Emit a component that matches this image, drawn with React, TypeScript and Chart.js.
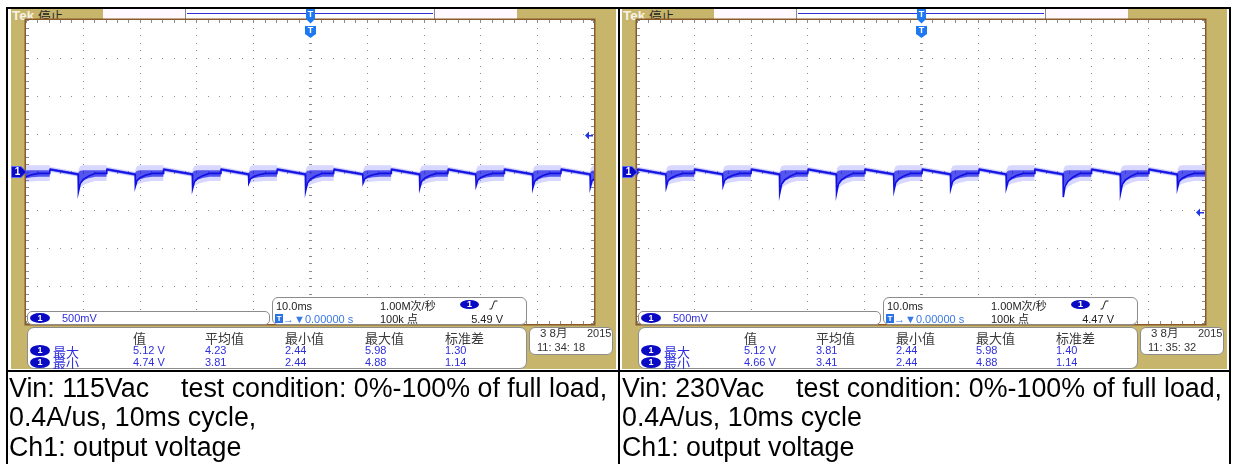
import React, { useEffect, useRef } from "react";
import { Chart, registerables } from "chart.js";

Chart.register(...registerables);

// ---------------- data ----------------
const TIME_MIN_MS = -50; // 10.0 ms/div, 10 divisions, trigger at centre
const TIME_MAX_MS = 50;
const VOLT_MIN = 3.0; // 500 mV/div, 8 divisions
const VOLT_MAX = 7.0;
const TIME_MAJOR_MS = [-40, -30, -20, -10, 0, 10, 20, 30, 40];
const VOLT_MAJOR = [3.5, 4.0, 4.5, 5.0, 5.5, 6.0, 6.5];
const TIME_MINOR_STEP_MS = 2;
const VOLT_MINOR_STEP = 0.1;

const CH1_GROUND_V = 5.0;
const TRIGGER_TIME_MS = 0;

// load step instants (ms) and the minimum the output dips to (V)
const LEFT_DIP_MS = [-50.8, -40.8, -30.8, -20.7, -10.8, -0.8, 9.3, 19.3, 29.2, 39.2, 49.3];
const LEFT_DIP_V = [4.86, 4.74, 4.81, 4.78, 4.855, 4.75, 4.855, 4.79, 4.82, 4.79, 4.8];
const LEFT_TRIGGER_V = 5.49;

const RIGHT_DIP_MS = [-54.9, -44.9, -34.9, -24.9, -14.9, -4.8, 5.2, 15.0, 25.0, 35.1, 45.1];
const RIGHT_DIP_V = [4.8, 4.8, 4.82, 4.72, 4.72, 4.76, 4.78, 4.79, 4.67, 4.72, 4.79];
const RIGHT_TRIGGER_V = 4.47;

// trace levels (V)
const QUIET_START_V = 5.035;
const QUIET_END_V = 4.97;
const QUIET_INNER_V = 0.018;
const QUIET_OUTER_V = 0.034;
const NOISY_CORE_V = 4.982;
const NOISY_INNER_HI_V = 5.022;
const NOISY_INNER_LO_V = 4.938;
const NOISY_OUTER_HI_V = 5.09;
const NOISY_OUTER_LO_V = 4.88;
const DIP_TAIL_V = 0.015;
const LOAD_STEP_MS = 5;
const RECOVERY_MS = [0.05, 0.35, 0.9, 1.8, 3.0];
const RECOVERY_FRAC = [1, 0.55, 0.33, 0.15, 0];
const INNER_DIP_FRAC = [0.45, 0.42, 0.26, 0.1, 0];
const NOISE_ONSET_FRAC = [0.5, 0.1, 0, 0, 0];

// readouts
const CH_SCALE = "500mV";
const TIMEBASE = "10.0ms";
const SAMPLE_RATE = "1.00M次/秒";
const RECORD_LEN = "100k 点";
const TRIG_POS = "→▼0.00000 s";
const MEAS_HEADERS = ["值", "平均值", "最小值", "最大值", "标准差"];
const ROW_LABELS = ["最大", "最小"];
const LEFT_MAX_ROW = ["5.12 V", "4.23", "2.44", "5.98", "1.30"];
const LEFT_MIN_ROW = ["4.74 V", "3.81", "2.44", "4.88", "1.14"];
const RIGHT_MAX_ROW = ["5.12 V", "3.81", "2.44", "5.98", "1.40"];
const RIGHT_MIN_ROW = ["4.66 V", "3.41", "2.44", "4.88", "1.14"];
const LEFT_TRIG_TEXT = "5.49 V";
const RIGHT_TRIG_TEXT = "4.47 V";
const DATE_TEXT = "3 8月";
const YEAR_TEXT = "2015";
const LEFT_CLOCK = "11: 34: 18";
const RIGHT_CLOCK = "11: 35: 32";

// captions
const LEFT_CAPTION_VIN = "Vin: 115Vac";
const RIGHT_CAPTION_VIN = "Vin: 230Vac";
const CAPTION_CONDITION = "test condition: 0%-100% of full load,";
const LEFT_CAPTION_LINES = ["0.4A/us, 10ms cycle,", "Ch1: output voltage"];
const RIGHT_CAPTION_LINES = ["0.4A/us, 10ms cycle", "Ch1: output voltage"];

// ---------------- styling ----------------
const TAN = "#C7B56B";
const BROWN = "#8A5A2A";
const GRID_DOT = "#8a8a8a";
const LAT = '"Liberation Sans", "Noto Sans CJK SC", sans-serif';
const CJK = '"Noto Sans CJK SC", "Liberation Sans", sans-serif';
const VAL_BLUE = "#2E2EE0";
const BADGE_BG = "#0A0AC4";
const TRIG_BLUE = "#1E78F0";

type Pt = { x: number; y: number };

function buildTrace(dipMs: number[], dipV: number[]) {
  const core: Pt[] = [];
  const inHi: Pt[] = [];
  const inLo: Pt[] = [];
  const outHi: Pt[] = [];
  const outLo: Pt[] = [];
  const push = (x: number, c: number, ih: number, il: number, oh: number, ol: number) => {
    core.push({ x, y: c });
    inHi.push({ x, y: ih });
    inLo.push({ x, y: il });
    outHi.push({ x, y: oh });
    outLo.push({ x, y: ol });
  };
  const quiet = (x: number, v: number) =>
    push(x, v, v + QUIET_INNER_V, v - QUIET_INNER_V, v + QUIET_OUTER_V, v - QUIET_OUTER_V);
  dipMs.forEach((t0, i) => {
    const d = dipV[i];
    quiet(t0, QUIET_END_V);
    RECOVERY_MS.forEach((dt, k) => {
      const f = RECOVERY_FRAC[k];
      const g = INNER_DIP_FRAC[k];
      const u = NOISE_ONSET_FRAC[k];
      push(
        t0 + dt,
        NOISY_CORE_V + (d - NOISY_CORE_V) * f,
        NOISY_INNER_HI_V + (QUIET_END_V - NOISY_INNER_HI_V) * u,
        NOISY_INNER_LO_V + (d - NOISY_INNER_LO_V) * g,
        NOISY_OUTER_HI_V + (QUIET_END_V - NOISY_OUTER_HI_V) * u,
        NOISY_OUTER_LO_V + (d - DIP_TAIL_V - NOISY_OUTER_LO_V) * f
      );
    });
    push(t0 + LOAD_STEP_MS - 0.03, NOISY_CORE_V, NOISY_INNER_HI_V, NOISY_INNER_LO_V, NOISY_OUTER_HI_V, NOISY_OUTER_LO_V);
    quiet(t0 + LOAD_STEP_MS + 0.03, QUIET_START_V);
    const next = i + 1 < dipMs.length ? dipMs[i + 1] : t0 + 2 * LOAD_STEP_MS;
    quiet(next - 0.03, QUIET_END_V);
  });
  return { core, inHi, inLo, outHi, outLo };
}

const scopePlugin = {
  id: "scopeScreen",
  beforeDraw(chart: any) {
    const { ctx, chartArea: a } = chart;
    ctx.save();
    ctx.fillStyle = "#ffffff";
    ctx.fillRect(a.left, a.top, a.right - a.left, a.bottom - a.top);
    ctx.restore();
  },
  beforeDatasetsDraw(chart: any) {
    const { ctx, chartArea: a, scales } = chart;
    const px = (t: number) => Math.round(scales.x.getPixelForValue(t));
    const py = (v: number) => Math.round(scales.y.getPixelForValue(v));
    const tMinor: number[] = [];
    const nt = Math.round((TIME_MAX_MS - TIME_MIN_MS) / TIME_MINOR_STEP_MS);
    for (let i = 0; i <= nt; i++) tMinor.push(TIME_MIN_MS + i * TIME_MINOR_STEP_MS);
    const vMinor: number[] = [];
    const nv = Math.round((VOLT_MAX - VOLT_MIN) / VOLT_MINOR_STEP);
    for (let i = 0; i <= nv; i++) vMinor.push(VOLT_MIN + i * VOLT_MINOR_STEP);
    ctx.save();
    ctx.fillStyle = GRID_DOT;
    TIME_MAJOR_MS.forEach((T) => vMinor.forEach((v) => ctx.fillRect(px(T), py(v), 1, 1)));
    VOLT_MAJOR.forEach((V) => tMinor.forEach((t) => ctx.fillRect(px(t), py(V), 1, 1)));
    const x0 = px(TRIGGER_TIME_MS);
    const y0 = py(CH1_GROUND_V);
    vMinor.forEach((v) => ctx.fillRect(x0 - 1, py(v), 3, 1));
    tMinor.forEach((t) => ctx.fillRect(px(t), y0 - 1, 1, 3));
    tMinor.forEach((t) => {
      const x = Math.min(px(t), a.right - 1);
      ctx.fillRect(x, a.top, 1, 3);
      ctx.fillRect(x, a.bottom - 3, 1, 3);
    });
    vMinor.forEach((v) => {
      const y = Math.min(py(v), a.bottom - 1);
      ctx.fillRect(a.left, y, 3, 1);
      ctx.fillRect(a.right - 3, y, 3, 1);
    });
    ctx.restore();
  },
  afterDraw(chart: any, _args: any, opts: any) {
    const { ctx, chartArea: a, scales } = chart;
    const px = (t: number) => scales.x.getPixelForValue(t);
    const py = (v: number) => Math.round(scales.y.getPixelForValue(v));
    ctx.save();
    // graticule frame
    ctx.strokeStyle = BROWN;
    ctx.lineWidth = 1.5;
    ctx.strokeRect(a.left - 0.75, a.top - 0.75, a.right - a.left + 1.5, a.bottom - a.top + 1.5);
    // channel 1 ground marker
    const gy = py(opts.groundV);
    ctx.fillStyle = BADGE_BG;
    ctx.strokeStyle = "#5a6cff";
    ctx.lineWidth = 1;
    ctx.beginPath();
    ctx.moveTo(a.left - 14.5, gy - 5.5);
    ctx.lineTo(a.left - 5, gy - 5.5);
    ctx.lineTo(a.left + 0.5, gy);
    ctx.lineTo(a.left - 5, gy + 5.5);
    ctx.lineTo(a.left - 14.5, gy + 5.5);
    ctx.closePath();
    ctx.fill();
    ctx.stroke();
    ctx.fillStyle = "#ffffff";
    ctx.font = 'bold 10px "Liberation Sans"';
    ctx.textAlign = "center";
    ctx.textBaseline = "middle";
    ctx.fillText("1", a.left - 8.5, gy + 0.5);
    // trigger level arrow
    const ty = py(opts.trigV);
    ctx.fillStyle = "#1E34E6";
    ctx.beginPath();
    ctx.moveTo(a.right - 9, ty + 0.5);
    ctx.lineTo(a.right - 5, ty - 3.5);
    ctx.lineTo(a.right - 5, ty + 4.5);
    ctx.closePath();
    ctx.fill();
    ctx.fillRect(a.right - 5, ty, 4, 1.5);
    // trigger position markers
    const xT = Math.round(px(opts.trigT)) + 0.5;
    ctx.fillStyle = TRIG_BLUE;
    ctx.fillRect(xT - 4.5, 0, 9, 10);
    ctx.beginPath();
    ctx.moveTo(xT - 4.5, 10);
    ctx.lineTo(xT + 4.5, 10);
    ctx.lineTo(xT, 14.5);
    ctx.closePath();
    ctx.fill();
    ctx.beginPath();
    ctx.moveTo(xT - 5.5, 17);
    ctx.lineTo(xT + 5.5, 17);
    ctx.lineTo(xT + 5.5, 25);
    ctx.lineTo(xT, 29);
    ctx.lineTo(xT - 5.5, 25);
    ctx.closePath();
    ctx.fill();
    ctx.fillStyle = "#ffffff";
    ctx.font = 'bold 9px "Liberation Sans"';
    ctx.fillText("T", xT, 5.5);
    ctx.fillText("T", xT, 22);
    ctx.restore();
  },
};

function Txt(props: { x: number; cy: number; size?: number; color?: string; font?: string; children: any; w?: number; align?: string }) {
  const size = props.size ?? 11;
  const lh = Math.round(size * 1.3);
  return (
    <div
      style={{
        position: "absolute",
        left: props.x,
        top: props.cy - lh / 2,
        width: props.w,
        textAlign: (props.align as any) ?? "left",
        fontSize: size,
        lineHeight: lh + "px",
        color: props.color ?? "#222",
        fontFamily: props.font ?? LAT,
        whiteSpace: "pre",
      }}
    >
      {props.children}
    </div>
  );
}

function Badge(props: { x: number; y: number; w?: number; h?: number }) {
  const w = props.w ?? 20;
  const h = props.h ?? 10;
  return (
    <div
      style={{
        position: "absolute",
        left: props.x,
        top: props.y,
        width: w,
        height: h,
        borderRadius: "50%",
        background: BADGE_BG,
        color: "#fff",
        fontFamily: LAT,
        fontWeight: "bold",
        fontSize: 9,
        lineHeight: h + "px",
        textAlign: "center",
      }}
    >
      1
    </div>
  );
}

function Box(props: { x: number; y: number; w: number; h: number; r?: number }) {
  return (
    <div
      style={{
        position: "absolute",
        left: props.x,
        top: props.y,
        width: props.w,
        height: props.h,
        boxSizing: "border-box",
        border: "1px solid #8c8c8c",
        borderRadius: props.r ?? 6,
        background: "#ffffff",
      }}
    />
  );
}

const MEAS_COL_X = [122, 194, 274, 354, 434];

function ScopePanel(props: {
  left: number;
  dipMs: number[];
  dipV: number[];
  trigV: number;
  trigText: string;
  maxRow: string[];
  minRow: string[];
  clock: string;
}) {
  const ref = useRef<HTMLCanvasElement | null>(null);
  useEffect(() => {
    const tr = buildTrace(props.dipMs, props.dipV);
    const base = { pointRadius: 0, tension: 0, clip: 0, borderColor: "transparent", borderWidth: 0 };
    const chart = new Chart(ref.current as HTMLCanvasElement, {
      type: "line",
      data: {
        datasets: [
          { ...base, data: tr.core, borderColor: "#1010E2", borderWidth: 1.6, fill: false, order: 0 },
          { ...base, data: tr.inHi, backgroundColor: "rgba(28,28,232,0.7)", fill: 2, order: 1 },
          { ...base, data: tr.inLo, fill: false, order: 1 },
          { ...base, data: tr.outHi, backgroundColor: "rgba(110,110,255,0.28)", fill: 4, order: 2 },
          { ...base, data: tr.outLo, fill: false, order: 2 },
        ] as any,
      },
      options: {
        responsive: false,
        maintainAspectRatio: false,
        animation: false,
        events: [],
        layout: { padding: { left: 15, top: 11, right: 22, bottom: 45 } },
        scales: {
          x: { type: "linear", min: TIME_MIN_MS, max: TIME_MAX_MS, display: false },
          y: { type: "linear", min: VOLT_MIN, max: VOLT_MAX, display: false },
        },
        plugins: {
          legend: { display: false },
          tooltip: { enabled: false },
          scopeScreen: { groundV: CH1_GROUND_V, trigV: props.trigV, trigT: TRIGGER_TIME_MS },
        } as any,
      },
      plugins: [scopePlugin as any],
    });
    return () => chart.destroy();
  }, []);

  return (
    <div style={{ position: "absolute", left: props.left, top: 9, width: 605, height: 360, background: TAN, overflow: "hidden" }}>
      {/* header */}
      <Txt x={1} cy={6.5} size={13.5} color="#F6F2E4" font={LAT}>
        <b>Tek</b>
      </Txt>
      <Txt x={27} cy={6.5} size={12.5} color="#262626" font={CJK}>
        停止
      </Txt>
      <div style={{ position: "absolute", left: 92, top: 0, width: 414, height: 10, background: "#FFF8FF" }} />
      <div
        style={{
          position: "absolute",
          left: 174,
          top: 0,
          width: 250,
          height: 11,
          boxSizing: "border-box",
          borderLeft: "1px solid #888",
          borderRight: "1px solid #888",
          borderBottom: "1px solid #aaa",
          background: "#ffffff",
        }}
      />
      <div style={{ position: "absolute", left: 176, top: 4, width: 246, height: 1, background: "#2F2FD8" }} />
      <canvas ref={ref} width={605} height={360} style={{ position: "absolute", left: 0, top: 0, display: "block" }} />
      {/* channel readout */}
      <Box x={16} y={302} w={243} h={14} r={5} />
      <Badge x={19} y={304} w={20} h={10} />
      <Txt x={51} cy={309} size={11} color={VAL_BLUE}>
        {CH_SCALE}
      </Txt>
      {/* timebase readout */}
      <Box x={261} y={288} w={255} h={28} r={6} />
      <Txt x={265} cy={297} size={11}>
        {TIMEBASE}
      </Txt>
      <Txt x={369} cy={297} size={11}>
        {SAMPLE_RATE}
      </Txt>
      <Badge x={449} y={291} w={19} h={9} />
      <svg style={{ position: "absolute", left: 478, top: 291 }} width={9} height={10}>
        <path d="M0.5 9 L2.5 9 L5.5 1 L8.5 1" stroke="#222" strokeWidth={1} fill="none" />
      </svg>
      <div
        style={{
          position: "absolute",
          left: 264,
          top: 305,
          width: 8,
          height: 9,
          background: "#2A72E6",
          color: "#fff",
          fontFamily: LAT,
          fontWeight: "bold",
          fontSize: 8,
          lineHeight: "9px",
          textAlign: "center",
        }}
      >
        T
      </div>
      <Txt x={272} cy={309.5} size={11} color="#3A78E6">
        {TRIG_POS}
      </Txt>
      <Txt x={369} cy={309.5} size={11}>
        {RECORD_LEN}
      </Txt>
      <Txt x={430} w={62} align="right" cy={309.5} size={11}>
        {props.trigText}
      </Txt>
      {/* measurement table */}
      <Box x={16} y={318} w={500} h={42} r={7} />
      {MEAS_HEADERS.map((h, i) => (
        <Txt key={"h" + i} x={MEAS_COL_X[i]} cy={328} size={13} color="#3a3a3a" font={CJK}>
          {h}
        </Txt>
      ))}
      {[props.maxRow, props.minRow].map((row, r) => (
        <React.Fragment key={"r" + r}>
          <Badge x={19} y={336 + r * 11.5} w={20} h={11} />
          <Txt x={42} cy={342 + r * 11.5} size={13} color={VAL_BLUE} font={CJK}>
            {ROW_LABELS[r]}
          </Txt>
          {row.map((v, i) => (
            <Txt key={"v" + i} x={MEAS_COL_X[i]} cy={341 + r * 12} size={11} color={VAL_BLUE}>
              {v}
            </Txt>
          ))}
        </React.Fragment>
      ))}
      {/* date / time */}
      <Box x={518} y={318} w={84} h={28} r={6} />
      <Txt x={529} cy={324.5} size={11.5} color="#333" font={LAT}>
        {DATE_TEXT}
      </Txt>
      <Txt x={576} cy={324} size={11} color="#333">
        {YEAR_TEXT}
      </Txt>
      <Txt x={526} cy={338} size={11} color="#333">
        {props.clock}
      </Txt>
    </div>
  );
}

function Caption(props: { left: number; vin: string; lines: string[] }) {
  return (
    <div
      style={{
        position: "absolute",
        left: props.left,
        top: 374,
        fontFamily: '"Liberation Sans", Arial, sans-serif',
        fontSize: 26.8,
        lineHeight: "29.4px",
        color: "#000",
        whiteSpace: "nowrap",
      }}
    >
      <div>
        {props.vin}
        <span style={{ display: "inline-block", width: 32 }} />
        {CAPTION_CONDITION}
      </div>
      {props.lines.map((l, i) => (
        <div key={i}>{l}</div>
      ))}
    </div>
  );
}

export default function App() {
  return (
    <div style={{ position: "relative", width: 1233, height: 464, overflow: "hidden", background: "#fff" }}>
      <style>{"html,body{margin:0;padding:0;background:#fff;}"}</style>
      <ScopePanel
        left={11}
        dipMs={LEFT_DIP_MS}
        dipV={LEFT_DIP_V}
        trigV={LEFT_TRIGGER_V}
        trigText={LEFT_TRIG_TEXT}
        maxRow={LEFT_MAX_ROW}
        minRow={LEFT_MIN_ROW}
        clock={LEFT_CLOCK}
      />
      <ScopePanel
        left={622}
        dipMs={RIGHT_DIP_MS}
        dipV={RIGHT_DIP_V}
        trigV={RIGHT_TRIGGER_V}
        trigText={RIGHT_TRIG_TEXT}
        maxRow={RIGHT_MAX_ROW}
        minRow={RIGHT_MIN_ROW}
        clock={RIGHT_CLOCK}
      />
      {/* table rules */}
      <div style={{ position: "absolute", left: 6, top: 7, width: 1225, height: 2, background: "#000" }} />
      <div style={{ position: "absolute", left: 6, top: 370, width: 1225, height: 2, background: "#000" }} />
      <div style={{ position: "absolute", left: 6, top: 7, width: 2, height: 457, background: "#000" }} />
      <div style={{ position: "absolute", left: 618, top: 7, width: 2, height: 457, background: "#000" }} />
      <div style={{ position: "absolute", left: 1229, top: 7, width: 2, height: 457, background: "#000" }} />
      <Caption left={9} vin={LEFT_CAPTION_VIN} lines={LEFT_CAPTION_LINES} />
      <Caption left={622} vin={RIGHT_CAPTION_VIN} lines={RIGHT_CAPTION_LINES} />
    </div>
  );
}
